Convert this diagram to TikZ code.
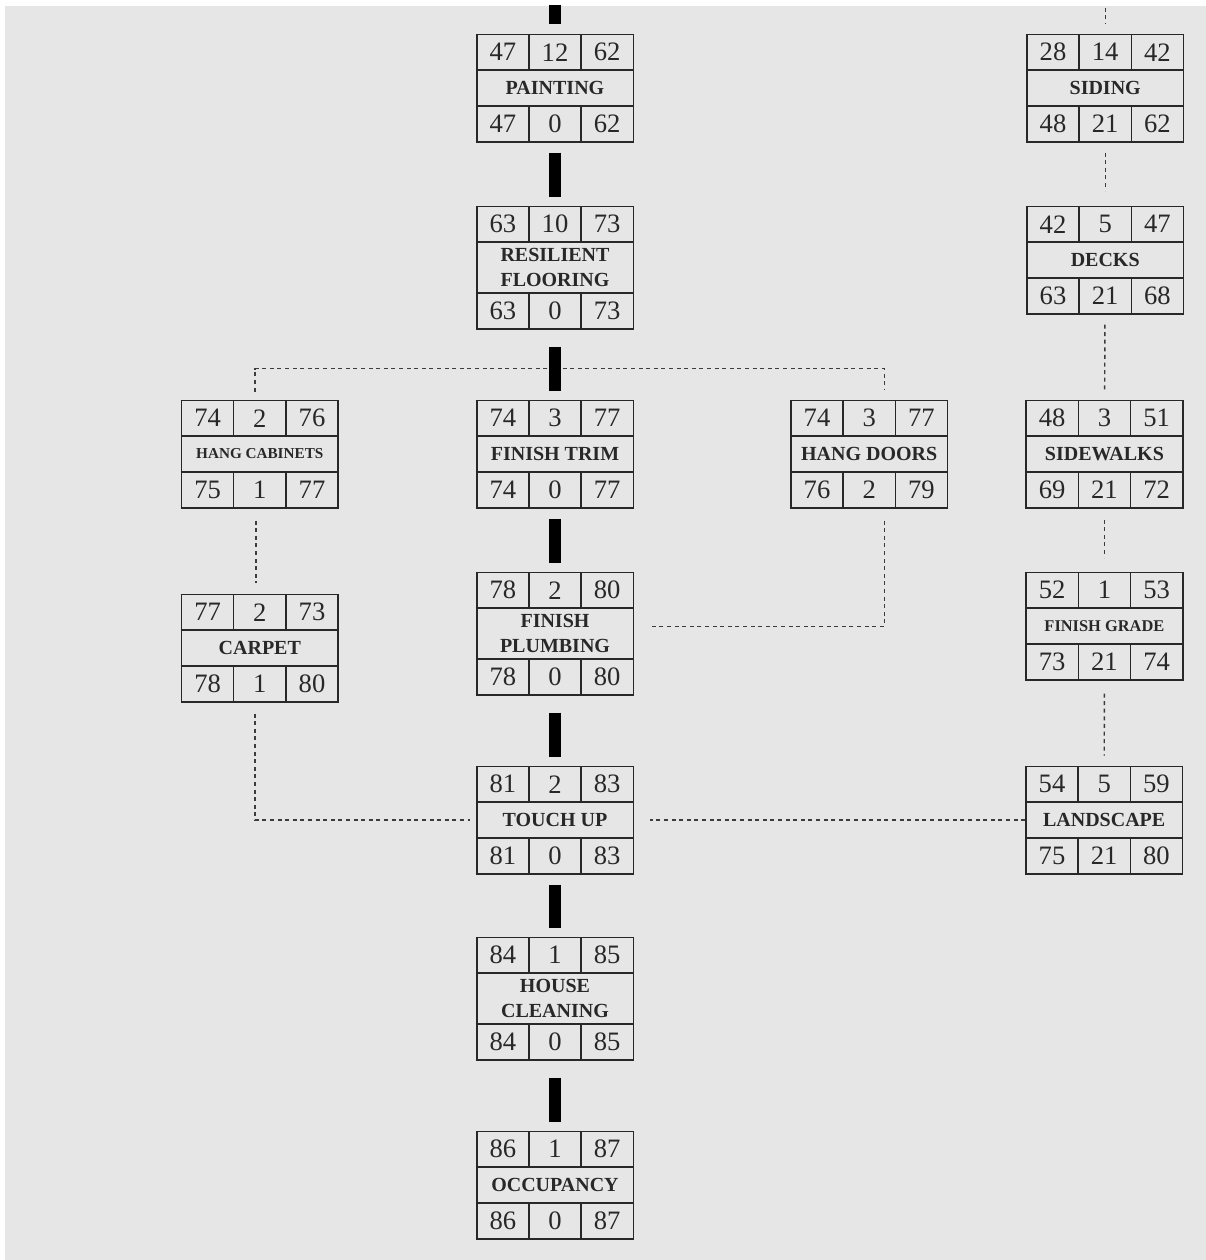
\documentclass[tikz,border=0pt]{standalone}
\usepackage{fontspec}
\setmainfont{Liberation Serif}
\usepackage{array}
\usepackage{xcolor}
\definecolor{paper}{RGB}{230,230,230}
\definecolor{inkgray}{RGB}{40,40,40}
\definecolor{tiegray}{RGB}{60,60,60}
\usepackage{tikz}
\usetikzlibrary{positioning}
\setlength{\tabcolsep}{0pt}
\setlength{\arrayrulewidth}{0.8pt}
\tikzset{
  actnode/.style={inner sep=0pt, outer sep=0pt, text=inkgray},
  critbar/.style={draw=black, line width=6pt, shorten <=5pt, shorten >=4.5pt},
  floatline/.style={draw=tiegray, line width=0.7pt, dash pattern=on 2pt off 1.8pt},
}
% one activity card: #1 height of the name row, #2-#4 early start / duration / early finish,
% #5 name, #6-#8 late start / float / late finish
\newcommand{\numcell}[1]{\parbox[c][17.1pt][c]{25.3pt}{\centering\fontsize{13.3}{15}\selectfont #1}}
\newcommand{\actcard}[8]{%
  {\renewcommand{\arraystretch}{0}%
  \begin{tabular}{|c|c|c|}\hline
    \numcell{#2} & \numcell{#3} & \numcell{#4}\\\hline
    \multicolumn{3}{|c|}{\parbox[c][#1][c]{77.5pt}{\centering\fontsize{10}{12.2}\selectfont\bfseries #5}}\\\hline
    \numcell{#6} & \numcell{#7} & \numcell{#8}\\\hline
  \end{tabular}}}

\begin{document}
\begin{tikzpicture}[x=0.5pt, y=0.5pt]

  \useasboundingbox (0,0) rectangle (1206,-1260);
  \fill[white] (0,0) rectangle (1206,-1260);
  \fill[paper] (5,-6) rectangle (1212,-1266);

  % critical column
  \node[actnode] (paint) at (555,-88) {\actcard{17.1pt}{47}{12}{62}{PAINTING}{47}{0}{62}};
  \node[actnode, below=31.5pt of paint] (floor) {\actcard{24.6pt}{63}{10}{73}{RESILIENT\\FLOORING}{63}{0}{73}};
  \node[actnode, below=35pt of floor] (trim) {\actcard{17.1pt}{74}{3}{77}{FINISH TRIM}{74}{0}{77}};
  \node[actnode, below=31.5pt of trim] (plumb) {\actcard{24.6pt}{78}{2}{80}{FINISH\\PLUMBING}{78}{0}{80}};
  \node[actnode, below=35pt of plumb] (touch) {\actcard{17.1pt}{81}{2}{83}{TOUCH UP}{81}{0}{83}};
  \node[actnode, below=31pt of touch] (clean) {\actcard{24.6pt}{84}{1}{85}{HOUSE\\CLEANING}{84}{0}{85}};
  \node[actnode, below=35pt of clean] (occup) {\actcard{17.1pt}{86}{1}{87}{OCCUPANCY}{86}{0}{87}};

  % interior branches
  \node[actnode, left=68.5pt of trim] (cabs) {\actcard{17.1pt}{74}{2}{76}{\fontsize{7.6}{9}\selectfont HANG CABINETS}{75}{1}{77}};
  \node[actnode, below=42.5pt of cabs] (carpet) {\actcard{17.1pt}{77}{2}{73}{CARPET}{78}{1}{80}};
  \node[actnode, right=78pt of trim] (doors) {\actcard{17.1pt}{74}{3}{77}{HANG DOORS}{76}{2}{79}};

  % exterior column
  \node[actnode, right=196pt of paint] (siding) {\actcard{17.1pt}{28}{14}{42}{SIDING}{48}{21}{62}};
  \node[actnode, below=31.5pt of siding] (decks) {\actcard{17.1pt}{42}{5}{47}{DECKS}{63}{21}{68}};
  \node[actnode, right=38.5pt of doors] (walks) {\actcard{17.1pt}{48}{3}{51}{SIDEWALKS}{69}{21}{72}};
  \node[actnode, below=31.5pt of walks] (grade) {\actcard{17.1pt}{52}{1}{53}{\fontsize{8.2}{10}\selectfont FINISH GRADE}{73}{21}{74}};
  \node[actnode, right=195.5pt of touch] (land) {\actcard{17.1pt}{54}{5}{59}{LANDSCAPE}{75}{21}{80}};

  % non-critical links
  \coordinate (fork) at ([yshift=-19.5pt]floor.south);
  \draw[floatline, shorten >=4pt] (fork) -| ([xshift=-2.5pt]cabs.north);
  \draw[floatline, shorten >=5pt] (fork) -| ([xshift=7.5pt]doors.north);
  \draw[floatline, shorten <=6pt, shorten >=5.5pt] ([xshift=-2pt]cabs.south) -- ([xshift=-2pt]carpet.north);
  \draw[floatline, shorten <=6pt, shorten >=8pt] ([xshift=7.5pt]doors.south) |- ([yshift=3.5pt]plumb.east);
  \draw[floatline, shorten <=5.5pt, shorten >=3pt] ([xshift=-2.5pt]carpet.south) |- (touch.west);
  \draw[floatline, shorten >=8pt] (land.west) -- (touch.east);

  \coordinate (sdin) at ([yshift=13pt]siding.north);
  \draw[floatline, shorten >=5pt] (sdin) -- (siding);
  \draw[floatline, shorten <=5pt, shorten >=7.5pt] (siding) -- (decks);
  \draw[floatline, shorten <=5pt, shorten >=5pt] (decks) -- (walks);
  \draw[floatline, shorten <=5.5pt, shorten >=7pt] (walks) -- (grade);
  \draw[floatline, shorten <=6.5pt, shorten >=5pt] (grade) -- (land);

  % critical path bars
  \coordinate (cpin) at ([yshift=14.5pt]paint.north);
  \draw[critbar, shorten <=0pt, shorten >=5pt] (cpin) -- (paint);
  \draw[critbar] (paint) -- (floor);
  \draw[critbar, shorten <=8.5pt] (floor) -- (trim);
  \draw[critbar] (trim) -- (plumb);
  \draw[critbar, shorten <=8.5pt] (plumb) -- (touch);
  \draw[critbar] (touch) -- (clean);
  \draw[critbar, shorten <=8.5pt] (clean) -- (occup);

\end{tikzpicture}
\end{document}
